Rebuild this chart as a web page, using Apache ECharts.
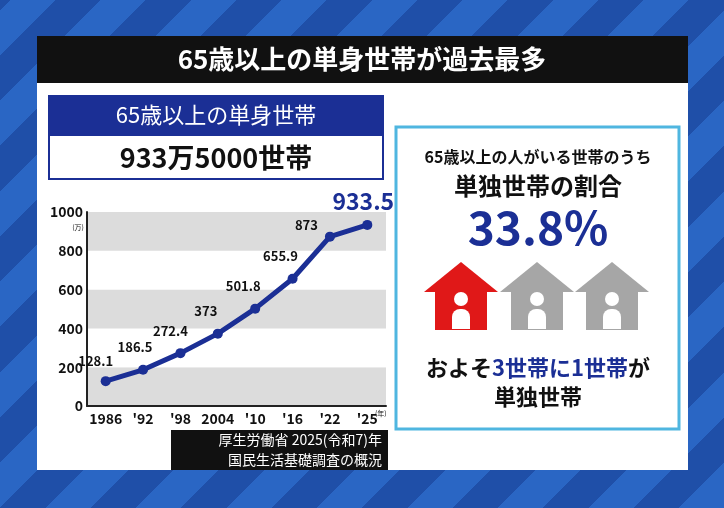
<!DOCTYPE html><html><head><meta charset="utf-8"><script src="https://cdn.jsdelivr.net/npm/echarts@6/dist/echarts.min.js"></script>
<style>html,body{margin:0;padding:0;}#c{width:724px;height:508px;background:repeating-linear-gradient(-45deg,#2a66c4 0 32px,#1f4fa8 32px 64px);}</style></head><body><div id="c"></div><script>
const categories=['1986',"'92","'98",'2004',"'10","'16","'22","'25"];
const values=[128.1,186.5,272.4,373,501.8,655.9,873,933.5];
const yTicks=[0,200,400,600,800,1000];
const F='"Noto Sans CJK JP",sans-serif';
const chart=echarts.init(document.getElementById('c'));
const offs=[[-10,-4],[-8,-6],[-10,-6],[-12,-6],[-12,-6],[-12,-6],[-22,-4],[-12,-2]];
function house(cx,color){
  return {type:'group',children:[
    {type:'polygon',shape:{points:[[cx,262],[cx-37,292],[cx+37,292]]},style:{fill:color}},
    {type:'rect',shape:{x:cx-26,y:284,width:52,height:46},style:{fill:color}},
    {type:'circle',shape:{cx:cx,cy:299,r:7},style:{fill:'#fff'}},
    {type:'rect',shape:{x:cx-9,y:309,width:18,height:20,r:[8,8,0,0]},style:{fill:'#fff'}}
  ]};
}
chart.setOption({
  backgroundColor:'transparent',
  graphic:[
    {type:'rect',z:-5,shape:{x:37,y:82,width:651,height:388},style:{fill:'#fff'}},
    {type:'rect',z:-5,shape:{x:37,y:36,width:651,height:47},style:{fill:'#111'}},
    {type:'text',z:5,style:{x:362,y:59,text:'65歳以上の単身世帯が過去最多',fill:'#fff',font:'bold 26px '+F,align:'center',verticalAlign:'middle'}},
    {type:'rect',z:-4,shape:{x:48,y:95,width:336,height:40},style:{fill:'#1b2f95'}},
    {type:'text',z:5,style:{x:216,y:115,text:'65歳以上の単身世帯',fill:'#fff',font:'22px '+F,align:'center',verticalAlign:'middle'}},
    {type:'rect',z:-4,shape:{x:49,y:135,width:334,height:44},style:{fill:'#fff',stroke:'#1b2f95',lineWidth:2}},
    {type:'text',z:5,style:{x:216,y:158,text:'933万5000世帯',fill:'#111',font:'bold 27px '+F,align:'center',verticalAlign:'middle'}},
    {type:'rect',z:-4,shape:{x:396,y:127,width:283,height:302},style:{fill:'#fff',stroke:'#4fb6e0',lineWidth:3}},
    {type:'text',z:5,style:{x:538,y:157,text:'65歳以上の人がいる世帯のうち',fill:'#111',font:'bold 16px '+F,align:'center',verticalAlign:'middle'}},
    {type:'text',z:5,style:{x:538,y:186,text:'単独世帯の割合',fill:'#111',font:'bold 24px '+F,align:'center',verticalAlign:'middle'}},
    {type:'text',z:5,style:{x:538,y:228,text:'33.8%',fill:'#1b2f95',font:'bold 46px '+F,align:'center',verticalAlign:'middle'}},
    house(461,'#e01818'),house(537,'#a6a6a6'),house(612,'#a6a6a6'),
    {type:'text',z:5,style:{x:538,y:368,rich:{a:{fill:'#111',font:'bold 22px '+F},b:{fill:'#1b2f95',font:'bold 22px '+F}},text:'{a|およそ}{b|3世帯に1世帯}{a|が}',align:'center',verticalAlign:'middle'}},
    {type:'text',z:5,style:{x:538,y:397,text:'単独世帯',fill:'#111',font:'bold 22px '+F,align:'center',verticalAlign:'middle'}},
    {type:'rect',z:4,shape:{x:171,y:430,width:217,height:40},style:{fill:'#111'}},
    {type:'text',z:5,style:{x:382,y:440,text:'厚生労働省 2025(令和7)年',fill:'#fff',font:'14px '+F,align:'right',verticalAlign:'middle'}},
    {type:'text',z:5,style:{x:382,y:460,text:'国民生活基礎調査の概況',fill:'#fff',font:'14px '+F,align:'right',verticalAlign:'middle'}},
    {type:'text',z:5,style:{x:78,y:224,text:'(万)',fill:'#111',font:'7px '+F,align:'center'}},
    {type:'text',z:5,style:{x:375,y:410,text:'(年)',fill:'#111',font:'7px '+F,align:'left'}}
  ],
  grid:{left:87,right:338,top:212,bottom:102},
  xAxis:{type:'category',data:categories,boundaryGap:true,axisLine:{lineStyle:{color:'#222',width:2}},axisTick:{show:false},
    axisLabel:{interval:0,color:'#111',fontSize:14,fontWeight:'bold',fontFamily:F,margin:6}},
  yAxis:{type:'value',min:0,max:1000,interval:200,axisLine:{show:true,lineStyle:{color:'#222',width:2}},axisTick:{show:false},
    splitLine:{show:false},splitArea:{show:true,areaStyle:{color:['#dcdcdc','#fff']}},
    axisLabel:{color:'#111',fontSize:14,fontWeight:'bold',fontFamily:F,margin:4,formatter:v=>yTicks.includes(v)?String(v):''}},
  series:[{type:'line',data:values.map((v,i)=>({value:v,label:(i===7?{fontSize:23,color:'#1b2f95',fontWeight:'bold',offset:[-4,-2]}:
      i===6?{position:'left',offset:[-2,-12]}:{offset:offs[i]})})),
    lineStyle:{color:'#1b2f95',width:5},itemStyle:{color:'#1b2f95'},symbol:'circle',symbolSize:10,
    label:{show:true,position:'top',color:'#111',fontSize:13,fontWeight:'bold',fontFamily:F}}]
});
</script></body></html>
